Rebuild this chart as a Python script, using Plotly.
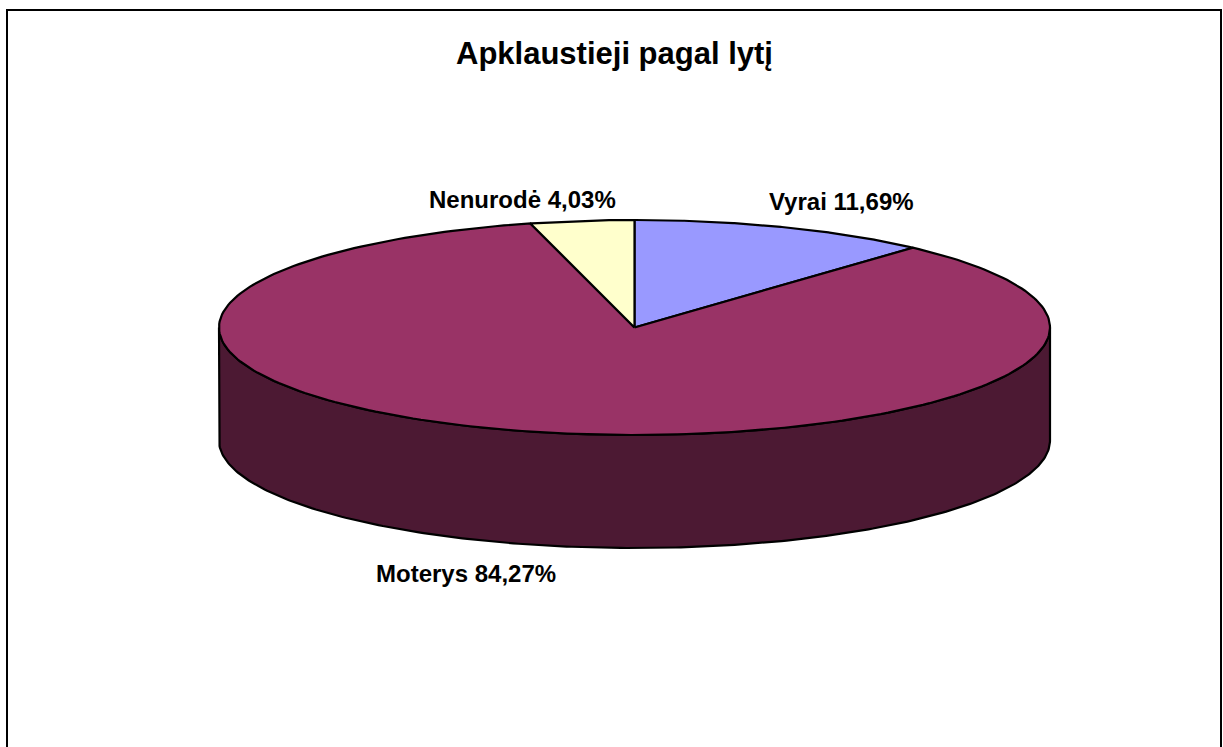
import numpy as np
import plotly.graph_objects as go

# ---- data ----
title = "Apklaustieji pagal lytį"
categories = ["Vyrai", "Moterys", "Nenurodė"]
values = [11.69, 84.27, 4.03]
colors = ["#9999FF", "#993366", "#FFFFCC"]
side_colors = ["#4C4C80", "#4C1933", "#808066"]

# ---- geometry (pixel space) ----
W, H = 1223, 747
cx, cy = 634.5, 327.5
rx, ry = 415.5, 107.5
depth = 113

total = sum(values)
fracs = [v / total for v in values]

def arc(t0, t1, yc, n=240):
    t = np.radians(np.linspace(t0, t1, n))
    return cx + rx * np.cos(t), yc - ry * np.sin(t)

fig = go.Figure()

# slice angle ranges, clockwise from 12 o'clock
ranges = []
cum = 0.0
for f in fracs:
    a0 = 90 - cum * 360
    cum += f
    a1 = 90 - cum * 360
    ranges.append((a0, a1))

# side walls (front half only)
for (a0, a1), sc in zip(ranges, side_colors):
    for k in (-1, 0, 1):
        lo, hi = -180 + 360 * k, 0 + 360 * k
        s_hi, s_lo = min(a0, hi), max(a1, lo)
        if s_hi > s_lo:
            xt, yt = arc(s_hi, s_lo, cy)
            xb, yb = arc(s_lo, s_hi, cy + depth)
            xs = np.concatenate([xt, xb, xt[:1]])
            ys = np.concatenate([yt, yb, yt[:1]])
            fig.add_trace(go.Scatter(x=xs, y=ys, mode="lines", fill="toself",
                                     fillcolor=sc, line=dict(color="black", width=2.2),
                                     hoverinfo="skip", showlegend=False))

# top faces
for (a0, a1), c, name in zip(ranges, colors, categories):
    xa, ya = arc(a0, a1, cy)
    xs = np.concatenate([[cx], xa, [cx]])
    ys = np.concatenate([[cy], ya, [cy]])
    fig.add_trace(go.Scatter(x=xs, y=ys, mode="lines", fill="toself",
                             fillcolor=c, line=dict(color="black", width=2.2),
                             name=name, hoverinfo="name", showlegend=False))

# labels
label_pos = {"Vyrai": (841, 201), "Moterys": (466, 573), "Nenurodė": (522, 199)}
for name, v in zip(categories, values):
    x, y = label_pos[name]
    txt = f"{name} {v:.2f}%".replace(".", ",")
    fig.add_annotation(x=x, y=y, text=txt, showarrow=False, xref="x", yref="y",
                       font=dict(family="Liberation Sans, Arial", size=24,
                                 color="black", weight="bold"))

fig.add_annotation(x=614, y=53, text=title, showarrow=False, xref="x", yref="y",
                   font=dict(family="Liberation Sans, Arial", size=31,
                             color="black", weight="bold"))

fig.add_shape(type="rect", x0=7, x1=1221, y0=10, y1=800, xref="x", yref="y",
              line=dict(color="black", width=2), fillcolor="rgba(0,0,0,0)")

fig.update_layout(
    width=W, height=H, margin=dict(l=0, r=0, t=0, b=0),
    paper_bgcolor="white", plot_bgcolor="white",
    xaxis=dict(range=[0, W], visible=False, fixedrange=True),
    yaxis=dict(range=[H, 0], visible=False, fixedrange=True),
)

fig.write_html("out.html",
               config={"displayModeBar": False},
               post_script="document.body.style.margin='0';document.body.style.overflow='hidden';")
